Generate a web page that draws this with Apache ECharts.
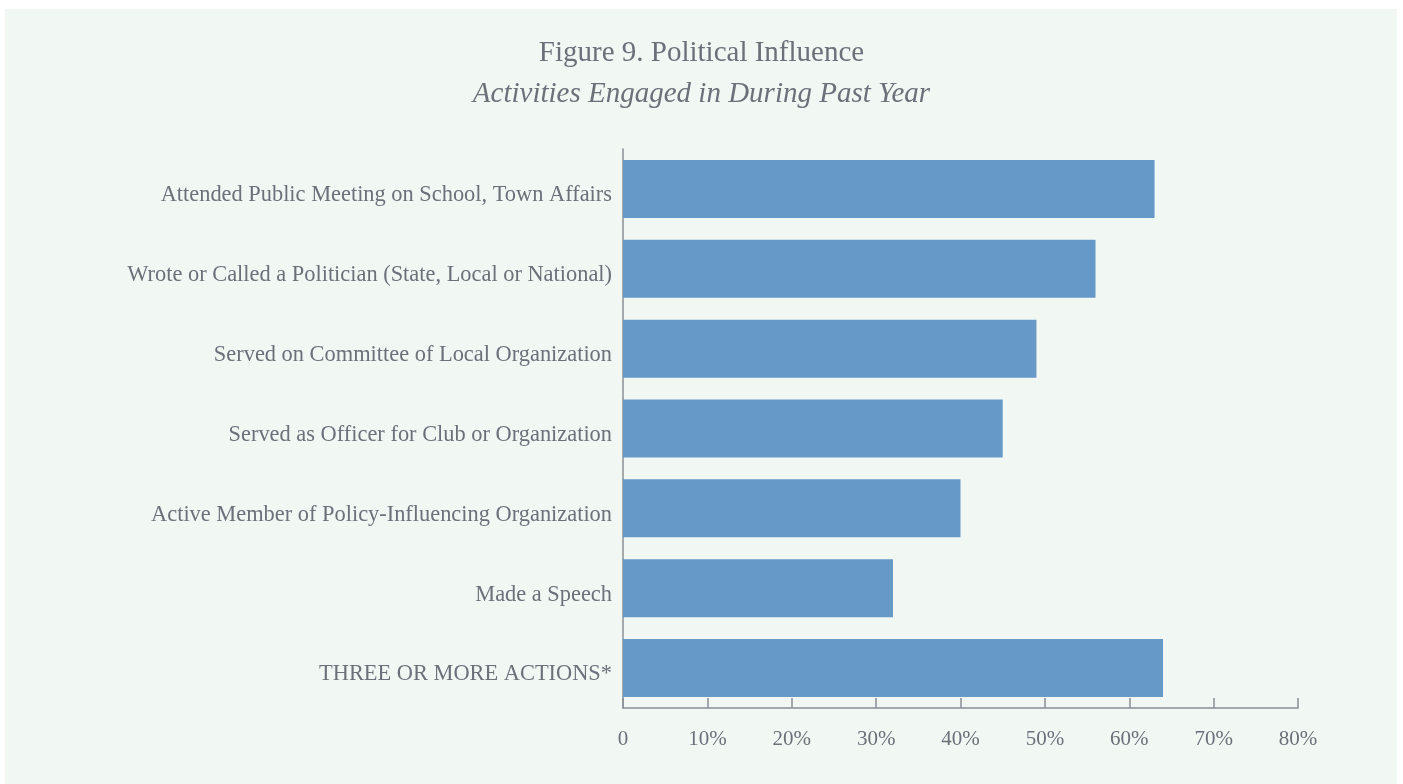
<!DOCTYPE html>
<html>
<head>
    <meta charset="utf-8">
    <title>Figure 9. Political Influence</title>
    <script src="https://cdn.jsdelivr.net/npm/echarts@6/dist/echarts.min.js"></script>
    <style>
        html, body { margin: 0; padding: 0; background: #ffffff; }
        #container { width: 1403px; height: 784px; }
    </style>
</head>
<body>
    <div id="container"></div>
    <script type="text/javascript">
        // data
        var categories = [
            'Attended Public Meeting on School, Town Affairs',
            'Wrote or Called a Politician (State, Local or National)',
            'Served on Committee of Local Organization',
            'Served as Officer for Club or Organization',
            'Active Member of Policy-Influencing Organization',
            'Made a Speech',
            'THREE OR MORE ACTIONS*'
        ];
        var percents = [63, 56, 49, 45, 40, 32, 64];
        var tickLabels = ['0', '10%', '20%', '30%', '40%', '50%', '60%', '70%', '80%'];

        var textColor = '#6b7079';
        var serif = '"Liberation Serif", "DejaVu Serif", serif';

        var dom = document.getElementById('container');
        var myChart = echarts.init(dom);

        var option = {
            backgroundColor: 'transparent',
            graphic: [{
                type: 'rect',
                z: -10,
                silent: true,
                shape: { x: 5, y: 9, width: 1392, height: 780 },
                style: { fill: '#f1f7f3' }
            }],
            title: {
                text: 'Figure 9. Political Influence',
                subtext: 'Activities Engaged in During Past Year',
                left: 'center',
                top: 34,
                itemGap: 12,
                textStyle: {
                    fontFamily: serif,
                    fontWeight: 'normal',
                    fontSize: 29,
                    color: textColor
                },
                subtextStyle: {
                    fontFamily: serif,
                    fontStyle: 'italic',
                    fontSize: 29,
                    color: textColor
                }
            },
            grid: {
                left: 623,
                right: 105,
                top: 149,
                bottom: 76,
                containLabel: false
            },
            xAxis: {
                type: 'value',
                min: 0,
                max: 80,
                interval: 10,
                axisLine: { show: true, lineStyle: { color: '#8a8f96', width: 1.5 } },
                axisTick: { show: true, inside: true, length: 10, lineStyle: { color: '#8a8f96', width: 1.5 } },
                splitLine: { show: false },
                axisLabel: {
                    margin: 21,
                    fontFamily: serif,
                    fontSize: 21,
                    color: textColor,
                    formatter: function (v) { return tickLabels[Math.round(v / 10)]; }
                }
            },
            yAxis: {
                type: 'category',
                inverse: true,
                data: categories,
                axisLine: { show: true, lineStyle: { color: '#8a8f96', width: 1.5 } },
                axisTick: { show: false },
                axisLabel: {
                    margin: 11,
                    formatter: function (v) { return '{c|' + v + '}'; },
                    rich: {
                        c: {
                            fontFamily: serif,
                            fontSize: 22.4,
                            color: textColor,
                            padding: [13, 0, 0, 0]
                        }
                    }
                }
            },
            series: [{
                type: 'bar',
                data: percents,
                barWidth: 58,
                itemStyle: { color: '#6699c8' },
                silent: true
            }]
        };
        myChart.setOption(option);
    </script>
</body>
</html>
